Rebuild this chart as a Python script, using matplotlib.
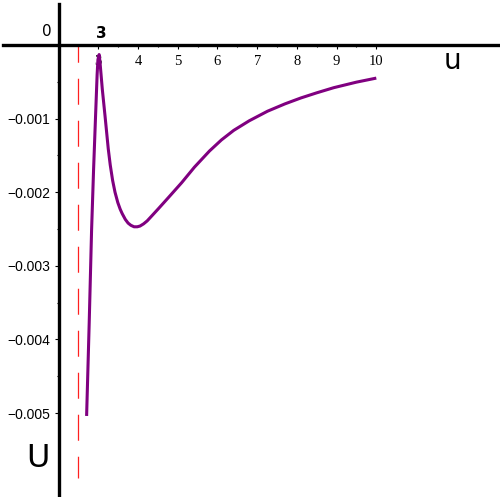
import numpy as np
import matplotlib
matplotlib.use('Agg')
import matplotlib.pyplot as plt

# curve U(u)
u = [2.705, 2.77, 2.83, 2.88, 2.93, 2.97, 2.99, 3.02, 3.04, 3.10, 3.17, 3.25,
     3.30, 3.36, 3.42, 3.49, 3.55, 3.60, 3.68, 3.75, 3.82, 3.90, 3.98, 4.05,
     4.14, 4.23, 4.35, 4.52, 4.77, 5.10, 5.42, 5.80, 6.10, 6.41, 6.80, 7.26,
     7.70, 8.10, 8.50, 8.93, 9.50, 10.0]
U = [-0.00504, -0.00378, -0.00252, -0.00170, -0.00097, -0.00040, -0.00020,
     -0.00013, -0.00022, -0.00060, -0.00097, -0.00141, -0.00163, -0.00184,
     -0.00200, -0.00214, -0.00223, -0.00229, -0.00237, -0.00242, -0.00245,
     -0.00247, -0.00247, -0.00246, -0.00243, -0.00239, -0.00232, -0.00222,
     -0.00207, -0.00187, -0.00166, -0.00144, -0.00129, -0.00116, -0.00103,
     -0.00090, -0.00080, -0.00072, -0.00065, -0.00058, -0.000505, -0.00045]

asymptote_u = 2.5
asymptote_bottom = -0.00588

x_ticks = [3, 4, 5, 6, 7, 8, 9, 10]
x_labels = ['3', '4', '5', '6', '7', '8', '9', '10']
x_minor = [3.5, 4.5, 5.5, 6.5, 7.5, 8.5, 9.5]
y_ticks = [-0.005, -0.004, -0.003, -0.002, -0.001]
y_labels = ['\u22120.005', '\u22120.004', '\u22120.003', '\u22120.002', '\u22120.001']
y_minor = [-0.0045, -0.0035, -0.0025, -0.0015, -0.0005]

fig = plt.figure(figsize=(5, 4.97), dpi=100)
ax = fig.add_axes([0, 0, 1, 1])

ax.plot(u, U, color='#800080', lw=2.2, solid_capstyle='butt', solid_joinstyle='round')
ax.plot([asymptote_u, asymptote_u], [0, asymptote_bottom], color='#ff2020', lw=0.9,
        linestyle=(7, (20.8, 12.8)))

ax.set_xlim(0.524, 13.115)
ax.set_ylim(-0.006141, 0.000611)

for s in ['top', 'right']:
    ax.spines[s].set_visible(False)
ax.spines['left'].set_position(('data', 2))
ax.spines['bottom'].set_position(('data', 0))
ax.spines['left'].set_linewidth(2.4)
ax.spines['bottom'].set_linewidth(2.4)
ax.spines['left'].set_bounds(-0.006141, 0.000557)
ax.spines['bottom'].set_bounds(0.6, 13.115)

ax.set_xticks(x_ticks)
ax.set_xticklabels(x_labels, family='Liberation Serif', fontsize=10.5)
ax.set_xticks(x_minor, minor=True)
ax.set_yticks(y_ticks)
ax.set_yticklabels(y_labels, family='Liberation Sans', fontsize=10)
ax.set_yticks(y_minor, minor=True)
ax.tick_params(which='major', length=3, width=0.8, direction='out')
ax.tick_params(which='minor', length=1.6, width=0.8, direction='out')
ax.tick_params(axis='x', which='major', pad=4)
ax.tick_params(axis='y', which='major', pad=3)

ax.text(1.70, 0.000177, '0', family='DejaVu Sans', fontsize=11, ha='center', va='center')
ax.text(3.07, 0.000156, '3', family='DejaVu Sans', fontweight='bold', fontsize=11,
        ha='center', va='center')
ax.text(11.92, -0.000215, 'u', family='DejaVu Sans', fontsize=20, ha='center', va='center')
ax.text(1.469, -0.005616, 'U', family='DejaVu Sans', fontsize=23, ha='center', va='center')

fig.savefig('out.png', dpi=100)
